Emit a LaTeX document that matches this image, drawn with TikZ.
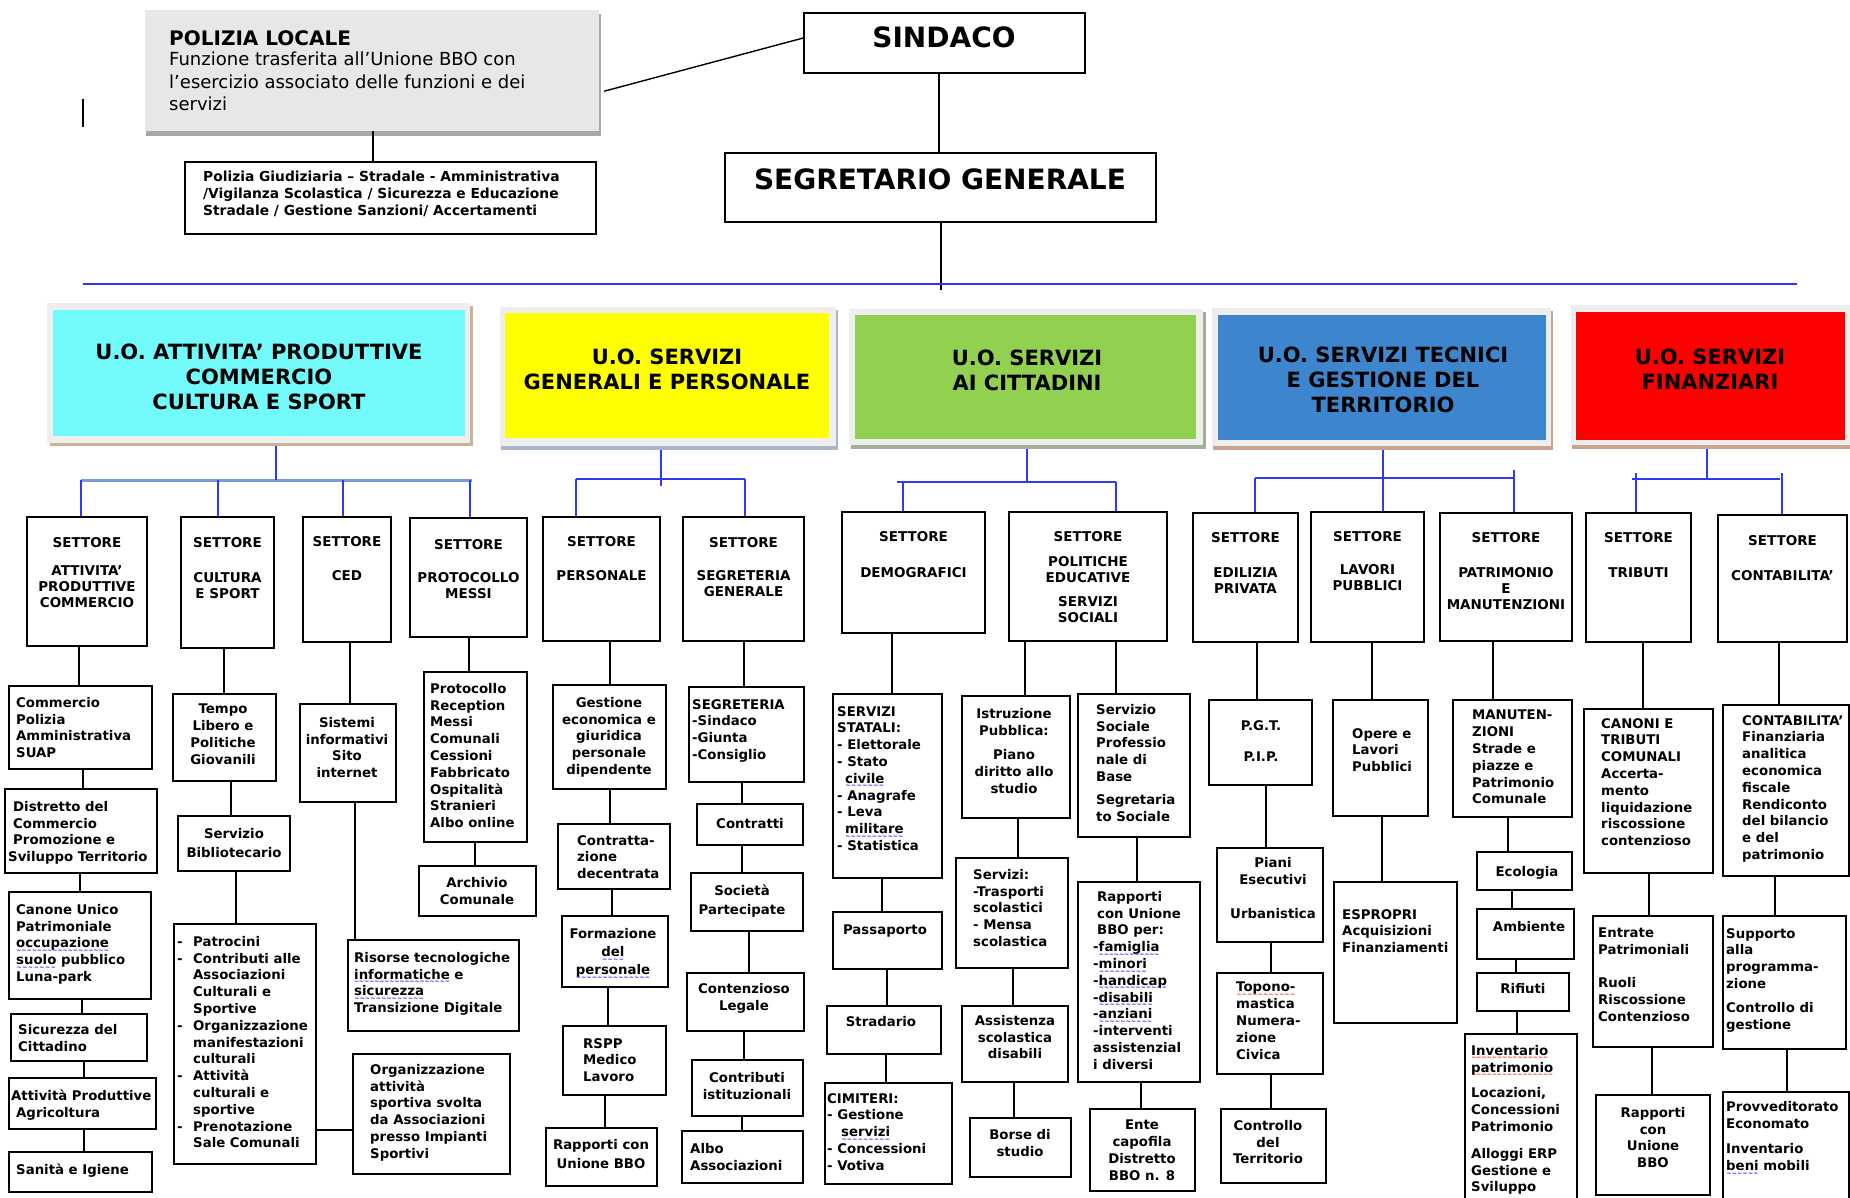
\documentclass[tikz,border=0pt]{standalone}
\usepackage{fontspec}
\setmainfont{DejaVu Sans}
\usetikzlibrary{fit}
\newcommand\mywave[2]{\setbox0\hbox{#2}\rlap{\raisebox{-4.5pt}[0pt][0pt]{\textcolor{#1}{\fontsize{6}{6}\selectfont\xleaders\hbox{\char"223C}\hskip\wd0}}}\box0\relax}
\newcommand\bwave[1]{\mywave{blue}{#1}}
\newcommand\rwave[1]{\mywave{red}{#1}}
\definecolor{uocyan}{HTML}{72F9F9}
\definecolor{uoyellow}{HTML}{FFFF00}
\definecolor{uogreen}{HTML}{92D050}
\definecolor{uoblue}{HTML}{3D86CE}
\definecolor{uored}{HTML}{FF0000}
\definecolor{frm}{HTML}{EEEEEE}
\definecolor{shtan}{HTML}{C8B48E}
\definecolor{shblue}{HTML}{A9B6CB}
\definecolor{shgreen}{HTML}{A4AE98}
\definecolor{shbrown}{HTML}{C9A48C}
\definecolor{polgray}{HTML}{E7E7E7}
\definecolor{polshadow}{HTML}{A8A8A8}
\definecolor{mainblue}{HTML}{3035F0}
\definecolor{lnblue}{HTML}{2E3BF2}
\definecolor{busgray}{HTML}{7C9ADB}
\tikzset{
  bx/.style={draw=black, line width=1.5pt, inner sep=0pt, fill=white},
  plain/.style={inner sep=0pt},
  t/.style={inner sep=0pt, font=\bfseries\fontsize{13.3}{16.8}\selectfont, align=left, anchor=north west},
  tc/.style={t, align=center, anchor=north},
  st/.style={inner sep=0pt, font=\bfseries\fontsize{13.5}{16}\selectfont, align=center, anchor=north},
  uo/.style={inner sep=0pt, font=\bfseries\fontsize{21}{25}\selectfont, align=center, anchor=north},
  ln/.style={draw=black, line width=1.4pt},
  bl/.style={draw=lnblue, line width=1.7pt},
}
\newcommand\Bx[5]{\node[bx, fit={(#2,#3) (#4,#5)}] (#1) {};}
\newcommand\vl[4][ln]{\coordinate (tmpx) at (#4,0); \draw[#1] (#2.south -| tmpx) -- (#3.north -| tmpx);}
\newcommand\drop[3]{\coordinate (tmpx) at (#2,#3); \draw[bl] (tmpx) -- (#1.north -| tmpx);}
\begin{document}
\begin{tikzpicture}[x=1pt,y=-1pt]
\useasboundingbox (0,0) rectangle (1850,1197);
\clip (0,0) rectangle (1850,1197);
\fill[white] (0,0) rectangle (1850,1197);

% ---------- top ----------
\node[plain, fit={(146,14) (601,136)}, fill=polshadow] (POLs) {};
\node[plain, fit={(145,10) (599,131)}, fill=polgray] (POL) {};
\node[plain, anchor=north west, font=\bfseries\fontsize{20}{24}\selectfont] (POLt1) at (169,30) {POLIZIA LOCALE};
\node[plain, anchor=north west, align=left, font=\fontsize{18}{22.4}\selectfont] (POLt2) at (169,52) {Funzione trasferita all’Unione BBO con\\l’esercizio associato delle funzioni e dei\\servizi};
\Bx{POL2}{185}{162}{596}{234}
\node[t, font=\bfseries\fontsize{13.8}{17}\selectfont] (POL2t) at (203,171) {Polizia Giudiziaria – Stradale - Amministrativa\\/Vigilanza Scolastica / Sicurezza e Educazione\\Stradale / Gestione Sanzioni/ Accertamenti};

\node[bx, fit={(804,13) (1085,73)}] (SIN) {};
\node[plain, anchor=north, font=\bfseries\fontsize{28}{32}\selectfont] (SINt) at (944,27) {SINDACO};
\node[bx, fit={(725,153) (1156,222)}] (SEG) {};
\node[plain, anchor=north, font=\bfseries\fontsize{28}{32}\selectfont] (SEGt) at (940,169) {SEGRETARIO GENERALE};

\coordinate (mkA) at (83,99); \coordinate (mkB) at (83,127);
\draw[line width=1.2pt] (mkA) -- (mkB);

% ---------- U.O. boxes ----------
\node[plain, fit={(50,306) (473,446)}, fill=shtan] (U1s) {};
\node[plain, fit={(47,303) (470,443)}, fill=frm] (U1f) {};
\node[plain, fit={(53,310) (465,436)}, fill=uocyan] (U1) {};
\node[uo] (U1t) at (259,344) {U.O. ATTIVITA’ PRODUTTIVE\\COMMERCIO\\CULTURA E SPORT};

\node[plain, fit={(501,310) (838,450)}, fill=shblue] (U2s) {};
\node[plain, fit={(500,307) (836,446)}, fill=frm] (U2f) {};
\node[plain, fit={(505,313) (829,438)}, fill=uoyellow] (U2) {};
\node[uo] (U2t) at (667,349) {U.O. SERVIZI\\GENERALI E PERSONALE};

\node[plain, fit={(851,312) (1206,449)}, fill=shgreen] (U3s) {};
\node[plain, fit={(849,309) (1203,445)}, fill=frm] (U3f) {};
\node[plain, fit={(855,315) (1196,439)}, fill=uogreen] (U3) {};
\node[uo] (U3t) at (1027,350) {U.O. SERVIZI\\AI CITTADINI};

\node[plain, fit={(1213,311) (1553,450)}, fill=shbrown] (U4s) {};
\node[plain, fit={(1212,308) (1551,446)}, fill=frm] (U4f) {};
\node[plain, fit={(1218,315) (1546,440)}, fill=uoblue] (U4) {};
\node[uo] (U4t) at (1383,347) {U.O. SERVIZI TECNICI\\E GESTIONE DEL\\TERRITORIO};

\node[plain, fit={(1572,308) (1850,449)}, fill=shbrown] (U5s) {};
\node[plain, fit={(1571,305) (1850,445)}, fill=frm] (U5f) {};
\node[plain, fit={(1576,312) (1845,440)}, fill=uored] (U5) {};
\node[uo] (U5t) at (1710,349) {U.O. SERVIZI\\FINANZIARI};

% ---------- SETTORE boxes ----------
\Bx{S1}{27}{517}{147}{646} \node[st] (S1t) at (87,537) {SETTORE\\[12pt]ATTIVITA’\\PRODUTTIVE\\COMMERCIO};
\Bx{S2}{181}{517}{274}{648} \node[st] (S2t) at (227.5,537) {SETTORE\\[19pt]CULTURA\\E SPORT};
\Bx{S3}{303}{517}{391}{642} \node[st] (S3t) at (347,536) {SETTORE\\[18pt]CED};
\Bx{S4}{410}{518}{527}{637} \node[st] (S4t) at (468.5,539) {SETTORE\\[17pt]PROTOCOLLO\\MESSI};
\Bx{S5}{543}{517}{660}{641} \node[st] (S5t) at (601.5,536) {SETTORE\\[18pt]PERSONALE};
\Bx{S6}{683}{517}{804}{641} \node[st] (S6t) at (743.5,537) {SETTORE\\[17pt]SEGRETERIA\\GENERALE};
\Bx{S7}{842}{512}{985}{633} \node[st] (S7t) at (913.5,531) {SETTORE\\[20pt]DEMOGRAFICI};
\Bx{S8}{1009}{512}{1167}{641} \node[st] (S8t) at (1088,531) {SETTORE\\[9pt]POLITICHE\\EDUCATIVE\\[8pt]SERVIZI\\SOCIALI};
\Bx{S9}{1193}{513}{1298}{642} \node[st] (S9t) at (1245.5,532) {SETTORE\\[19pt]EDILIZIA\\PRIVATA};
\Bx{S10}{1311}{512}{1424}{642} \node[st] (S10t) at (1367.5,531) {SETTORE\\[17pt]LAVORI\\PUBBLICI};
\Bx{S11}{1440}{513}{1572}{641} \node[st] (S11t) at (1506,532) {SETTORE\\[19pt]PATRIMONIO\\E\\MANUTENZIONI};
\Bx{S12}{1586}{513}{1691}{642} \node[st] (S12t) at (1638.5,532) {SETTORE\\[19pt]TRIBUTI};
\Bx{S13}{1718}{515}{1847}{642} \node[st] (S13t) at (1782.5,535) {SETTORE\\[19pt]CONTABILITA’};

% ---------- column 1 ----------
\Bx{c1a}{9}{686}{152}{769} \node[t] (c1at) at (16,697) {Commercio\\Polizia\\Amministrativa\\SUAP};
\Bx{c1b}{5}{789}{157}{873} \node[t] (c1bt) at (13,801) {Distretto del\\Commercio\\Promozione e\\\hspace*{-5pt}Sviluppo Territorio};
\Bx{c1c}{9}{892}{151}{999} \node[t] (c1ct) at (16,904) {Canone Unico\\Patrimoniale\\\bwave{occupazione}\\\bwave{suolo} pubblico\\Luna-park};
\Bx{c1d}{11}{1014}{147}{1061} \node[t] (c1dt) at (18,1024) {Sicurezza del\\Cittadino};
\Bx{c1e}{9}{1078}{156}{1129} \node[t] (c1et) at (11,1090) {Attività Produttive\\\hspace*{5pt}Agricoltura};
\Bx{c1f}{9}{1152}{152}{1192} \node[t] (c1ft) at (16,1164) {Sanità e Igiene};

% ---------- column 2 ----------
\Bx{c2a}{173}{694}{276}{781} \node[tc] (c2at) at (223,704) {Tempo\\Libero e\\Politiche\\Giovanili};
\Bx{c2b}{178}{816}{290}{871} \node[tc] (c2bt) at (234,828) {Servizio\\[2pt]Bibliotecario};
\Bx{c2c}{174}{924}{316}{1164}
\node[t] (c2ct) at (177,936) {\makebox[16pt][l]{-}Patrocini\\\makebox[16pt][l]{-}Contributi alle\\\hspace*{16pt}Associazioni\\\hspace*{16pt}Culturali e\\\hspace*{16pt}Sportive\\\makebox[16pt][l]{-}Organizzazione\\\hspace*{16pt}manifestazioni\\\hspace*{16pt}culturali\\\makebox[16pt][l]{-}Attività\\\hspace*{16pt}culturali e\\\hspace*{16pt}sportive\\\makebox[16pt][l]{-}Prenotazione\\\hspace*{16pt}Sale Comunali};
\Bx{c2d}{353}{1054}{510}{1174} \node[t] (c2dt) at (370,1064) {Organizzazione\\attività\\sportiva svolta\\da Associazioni\\presso Impianti\\Sportivi};

% ---------- column 3 ----------
\Bx{c3a}{300}{704}{396}{802} \node[tc] (c3at) at (347,717) {Sistemi\\informativi\\Sito\\internet};
\Bx{c3b}{348}{940}{519}{1031} \node[t] (c3bt) at (354,952) {Risorse tecnologiche\\\bwave{informatiche} e\\\bwave{sicurezza}\\Transizione Digitale};

% ---------- column 4 ----------
\Bx{c4a}{424}{672}{527}{842} \node[t] (c4at) at (430,683) {Protocollo\\Reception\\Messi\\Comunali\\Cessioni\\Fabbricato\\Ospitalità\\Stranieri\\Albo online};
\Bx{c4b}{419}{866}{536}{916} \node[tc] (c4bt) at (477,877) {Archivio\\Comunale};

% ---------- column 5 ----------
\Bx{c5a}{553}{685}{666}{789} \node[tc] (c5at) at (609,697) {Gestione\\economica e\\giuridica\\personale\\dipendente};
\Bx{c5b}{558}{824}{670}{889} \node[t] (c5bt) at (577,835) {Contratta-\\zione\\decentrata};
\Bx{c5c}{562}{916}{668}{987} \node[tc] (c5ct) at (613,928) {Formazione\\[1.5pt]\bwave{del}\\[1.5pt]\bwave{personale}};
\Bx{c5d}{563}{1026}{666}{1095} \node[t] (c5dt) at (583,1038) {RSPP\\Medico\\Lavoro};
\Bx{c5e}{546}{1128}{657}{1186} \node[tc] (c5et) at (601,1139) {Rapporti con\\[2pt]Unione BBO};

% ---------- column 6 ----------
\Bx{c6a}{689}{687}{804}{782} \node[t] (c6at) at (692,699) {SEGRETERIA\\-Sindaco\\-Giunta\\-Consiglio};
\Bx{c6b}{697}{804}{803}{845} \node[tc] (c6bt) at (750,818) {Contratti};
\Bx{c6c}{691}{873}{803}{931} \node[tc] (c6ct) at (742,885) {Società\\[2pt]Partecipate};
\Bx{c6d}{687}{973}{804}{1031} \node[tc] (c6dt) at (744,983) {Contenzioso\\Legale};
\Bx{c6e}{692}{1060}{803}{1116} \node[tc] (c6et) at (747,1072) {Contributi\\istituzionali};
\Bx{c6f}{682}{1131}{803}{1183} \node[t] (c6ft) at (690,1143) {Albo\\Associazioni};

% ---------- column 7 ----------
\Bx{c7a}{833}{694}{942}{878} \node[t] (c7at) at (837,706) {SERVIZI\\STATALI:\\- Elettorale\\- Stato\\\hspace*{8pt}\bwave{civile}\\- Anagrafe\\- Leva\\\hspace*{8pt}\bwave{militare}\\- Statistica};
\Bx{c7b}{833}{912}{942}{969} \node[tc] (c7bt) at (885,925) {Passaporto};
\Bx{c7c}{827}{1006}{941}{1054} \node[tc] (c7ct) at (881,1016) {Stradario};
\Bx{c7d}{825}{1083}{952}{1184} \node[t] (c7dt) at (827,1093) {CIMITERI:\\- Gestione\\\hspace*{14pt}\bwave{servizi}\\- Concessioni\\- Votiva};

% ---------- column 8 ----------
\Bx{c8a}{962}{696}{1070}{818} \node[tc] (c8at) at (1014,708) {Istruzione\\Pubblica:\\[8pt]Piano\\diritto allo\\studio};
\Bx{c8b}{956}{858}{1068}{968} \node[t] (c8bt) at (973,869) {Servizi:\\-Trasporti\\scolastici\\- Mensa\\scolastica};
\Bx{c8c}{962}{1006}{1068}{1082} \node[tc] (c8ct) at (1015,1015) {Assistenza\\scolastica\\disabili};
\Bx{c8d}{970}{1118}{1071}{1177} \node[tc] (c8dt) at (1020,1129) {Borse di\\studio};
\Bx{c8e}{1078}{694}{1190}{837} \node[t] (c8et) at (1096,704) {Servizio\\Sociale\\Professio\\nale di\\Base\\[6pt]Segretaria\\to Sociale};
\Bx{c8f}{1078}{882}{1200}{1082} \node[t] (c8ft) at (1093,891) {\hspace*{4pt}Rapporti\\\hspace*{4pt}con Unione\\\hspace*{4pt}BBO per:\\-\bwave{famiglia}\\-\bwave{minori}\\-\bwave{handicap}\\-\bwave{disabili}\\-\bwave{anziani}\\-interventi\\assistenzial\\i diversi};
\Bx{c8g}{1090}{1109}{1195}{1191} \node[tc] (c8gt) at (1142,1120) {Ente\\capofila\\Distretto\\BBO n. 8};

% ---------- column 9 ----------
\Bx{c9a}{1209}{700}{1312}{785} \node[tc] (c9at) at (1261,720) {P.G.T.\\[15pt]P.I.P.};
\Bx{c9b}{1217}{848}{1323}{942} \node[tc] (c9bt) at (1273,857) {Piani\\Esecutivi\\[18pt]Urbanistica};
\Bx{c9c}{1217}{973}{1323}{1074} \node[t] (c9ct) at (1236,982) {\rwave{Topono-}\\mastica\\Numera-\\zione\\Civica};
\Bx{c9d}{1221}{1109}{1326}{1183} \node[tc] (c9dt) at (1268,1120) {Controllo\\del\\Territorio};

% ---------- column 10 ----------
\Bx{c10a}{1333}{700}{1428}{816} \node[t] (c10at) at (1352,728) {Opere e\\Lavori\\Pubblici};
\Bx{c10b}{1334}{882}{1457}{1023} \node[t] (c10bt) at (1342,909) {ESPROPRI\\Acquisizioni\\Finanziamenti};

% ---------- column 11 ----------
\Bx{c11a}{1453}{700}{1572}{817} \node[t] (c11at) at (1472,710) {MANUTEN-\\ZIONI\\Strade e\\piazze e\\Patrimonio\\Comunale};
\Bx{c11b}{1477}{852}{1572}{890} \node[tc] (c11bt) at (1527,866) {Ecologia};
\Bx{c11c}{1477}{909}{1574}{959} \node[tc] (c11ct) at (1529,921) {Ambiente};
\Bx{c11d}{1477}{973}{1569}{1011} \node[tc] (c11dt) at (1523,983) {Rifiuti};
\Bx{c11e}{1465}{1034}{1577}{1215} \node[t] (c11et) at (1471,1045) {\rwave{Inventario}\\\rwave{patrimonio}\\[9pt]Locazioni,\\Concessioni\\Patrimonio\\[10pt]Alloggi ERP\\Gestione e\\Sviluppo};

% ---------- column 12 ----------
\Bx{c12a}{1584}{709}{1713}{873} \node[t] (c12at) at (1601,718) {CANONI E\\TRIBUTI\\COMUNALI\\Accerta-\\mento\\liquidazione\\riscossione\\contenzioso};
\Bx{c12b}{1593}{916}{1713}{1047} \node[t] (c12bt) at (1598,928) {Entrate\\Patrimoniali\\[16pt]Ruoli\\Riscossione\\Contenzioso};
\Bx{c12c}{1596}{1095}{1710}{1195} \node[tc] (c12ct) at (1653,1107) {Rapporti\\con\\Unione\\BBO};

% ---------- column 13 ----------
\Bx{c13a}{1723}{705}{1849}{876} \node[t] (c13at) at (1742,715) {CONTABILITA’\\Finanziaria\\analitica\\economica\\fiscale\\Rendiconto\\del bilancio\\e del\\patrimonio};
\Bx{c13b}{1723}{916}{1846}{1049} \node[t] (c13bt) at (1726,928) {Supporto\\alla\\programma-\\zione\\[7pt]Controllo di\\gestione};
\Bx{c13c}{1723}{1092}{1849}{1215} \node[t] (c13ct) at (1726,1101) {Provveditorato\\Economato\\[9pt]Inventario\\\bwave{beni} mobili};

% ---------- top connectors ----------
\draw[ln] ([shift={(5,-40)}]POL.south east) -- ([shift={(0,-5)}]SIN.west);
\vl{POL}{POL2}{373}
\vl{SIN}{SEG}{939}
\coordinate (segEnd) at (941,290);
\draw[ln] (SEG.south -| segEnd) -- (segEnd);
\coordinate (mainL) at (83,284); \coordinate (mainR) at (1797,284);
\draw[line width=2.6pt, mainblue] (mainL) -- (mainR);

% ---------- UO buses ----------
\coordinate (b1a) at (81,480); \coordinate (b1b) at (472,480);
\draw[busgray, line width=3pt] (b1a) -- (b1b);
\coordinate (tmpx) at (276,480); \draw[bl] (U1s.south -| tmpx) -- (tmpx);
\drop{S1}{81}{480} \drop{S2}{218}{480} \drop{S3}{343}{480} \drop{S4}{470}{480}

\coordinate (b2a) at (576,479); \coordinate (b2b) at (745,479);
\draw[bl] (b2a) -- (b2b);
\coordinate (tmpx) at (661,486); \draw[bl] (U2s.south -| tmpx) -- (tmpx);
\drop{S5}{576}{479} \drop{S6}{745}{479}

\coordinate (b3a) at (897,482); \coordinate (b3b) at (1116,482);
\draw[bl, line width=2.4pt] (b3a) -- (b3b);
\coordinate (tmpx) at (1027,482); \draw[bl] (U3s.south -| tmpx) -- (tmpx);
\drop{S7}{903}{482} \drop{S8}{1116}{482}

\coordinate (b4a) at (1255,478); \coordinate (b4b) at (1514,478);
\draw[bl, line width=2.4pt] (b4a) -- (b4b);
\coordinate (tmpx) at (1383,0); \draw[bl] (U4s.south -| tmpx) -- (S10.north -| tmpx);
\drop{S9}{1255}{478} \drop{S11}{1514}{470}

\coordinate (b5a) at (1632,479); \coordinate (b5b) at (1780,479);
\draw[bl, line width=2.4pt] (b5a) -- (b5b);
\coordinate (tmpx) at (1707,479); \draw[bl] (U5s.south -| tmpx) -- (tmpx);
\drop{S12}{1636}{473} \drop{S13}{1782}{473}

% ---------- settore to first boxes ----------
\vl{S1}{c1a}{79} \vl{S2}{c2a}{224} \vl{S3}{c3a}{350} \vl{S4}{c4a}{469}
\vl{S5}{c5a}{610} \vl{S6}{c6a}{744} \vl{S7}{c7a}{892}
\vl{S8}{c8a}{1025} \vl{S8}{c8e}{1116}
\vl{S9}{c9a}{1257} \vl{S10}{c10a}{1372} \vl{S11}{c11a}{1493}
\vl{S12}{c12a}{1643} \vl{S13}{c13a}{1779}

% ---------- column chains ----------
\vl{c1a}{c1b}{83} \vl{c1b}{c1c}{80} \vl{c1c}{c1d}{82} \vl{c1d}{c1e}{84} \vl{c1e}{c1f}{84}
\vl{c2a}{c2b}{231} \vl{c2b}{c2c}{236}
\coordinate (tmpy) at (0,1130); \draw[line width=2.6pt] (c2c.east |- tmpy) -- (c2d.west |- tmpy);
\vl{c3a}{c3b}{355}
\vl{c4a}{c4b}{475}
\vl{c5a}{c5b}{610} \vl{c5b}{c5c}{612} \vl{c5c}{c5d}{608} \vl{c5d}{c5e}{605}
\vl{c6a}{c6b}{742} \vl{c6b}{c6c}{742} \vl{c6c}{c6d}{749} \vl{c6d}{c6e}{744} \vl{c6e}{c6f}{742}
\vl{c7a}{c7b}{882} \vl{c7b}{c7c}{887} \vl{c7c}{c7d}{886}
\vl{c8a}{c8b}{1018} \vl{c8b}{c8c}{1013} \vl{c8c}{c8d}{1014}
\vl{c8e}{c8f}{1137} \vl{c8f}{c8g}{1141}
\vl{c9a}{c9b}{1266} \vl{c9b}{c9c}{1271} \vl{c9c}{c9d}{1271}
\vl{c10a}{c10b}{1382}
\vl{c11a}{c11b}{1508} \vl{c11b}{c11c}{1512} \vl{c11c}{c11d}{1516} \vl{c11d}{c11e}{1517}
\vl{c12a}{c12b}{1649} \vl{c12b}{c12c}{1652}
\vl{c13a}{c13b}{1775} \vl{c13b}{c13c}{1787}
\end{tikzpicture}
\end{document}
